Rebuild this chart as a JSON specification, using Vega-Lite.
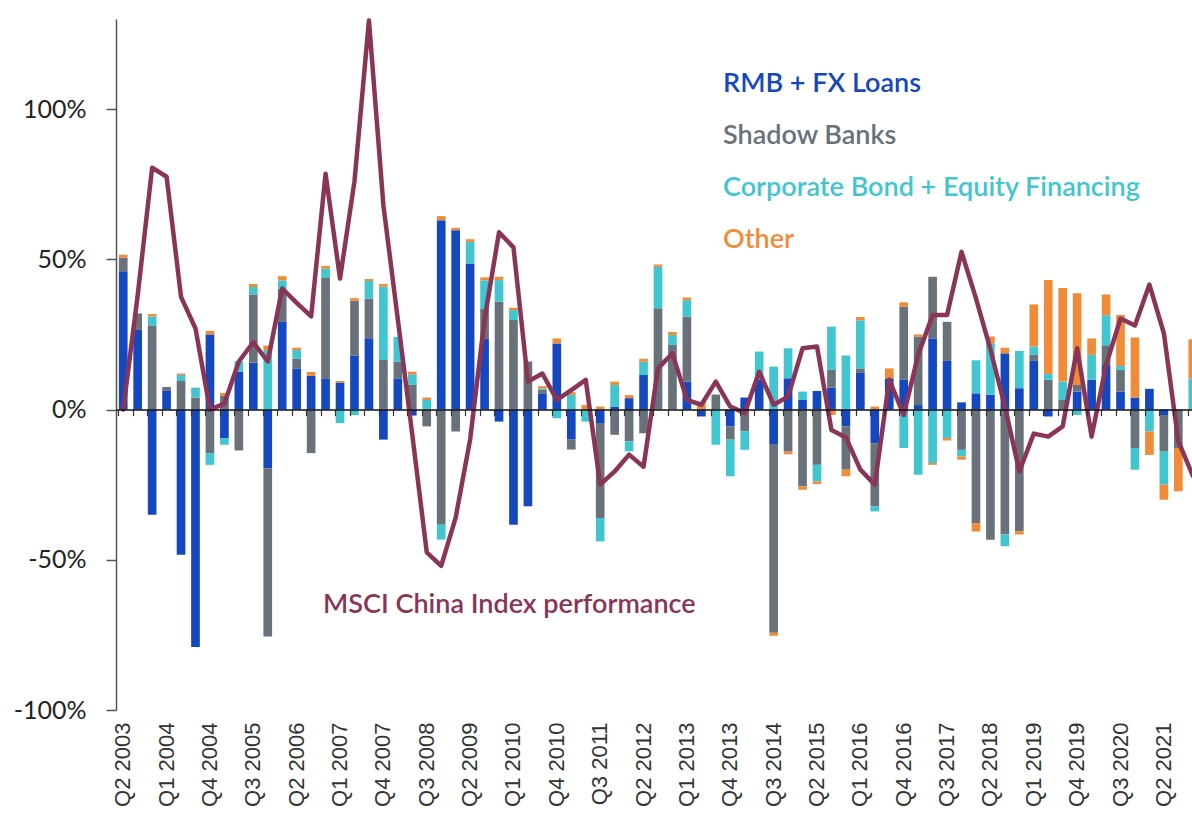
{
  "$schema": "https://vega.github.io/schema/vega-lite/v6.json",
  "width": 1084,
  "height": 691,
  "padding": {"left": 13, "top": 18, "right": 0, "bottom": 0},
  "autosize": {"type": "pad"},
  "background": "white",
  "config": {"view": {"stroke": null}, "font": "Lato"},
  "resolve": {"axis": {"x": "independent"}},
  "datasets": {
    "bars": [
      {"q":"Q2 2003","s":"RMB + FX Loans","n":1,"v":46},{"q":"Q2 2003","s":"Shadow Banks","n":2,"v":4.5},{"q":"Q2 2003","s":"Other","n":4,"v":1},
      {"q":"Q3 2003","s":"RMB + FX Loans","n":1,"v":26.5},{"q":"Q3 2003","s":"Shadow Banks","n":2,"v":5.5},
      {"q":"Q4 2003","s":"RMB + FX Loans","n":1,"v":-35},{"q":"Q4 2003","s":"Shadow Banks","n":2,"v":28},{"q":"Q4 2003","s":"Corporate Bond + Equity Financing","n":3,"v":3},{"q":"Q4 2003","s":"Other","n":4,"v":0.8},
      {"q":"Q1 2004","s":"RMB + FX Loans","n":1,"v":6.2},{"q":"Q1 2004","s":"Shadow Banks","n":2,"v":1.3},
      {"q":"Q2 2004","s":"RMB + FX Loans","n":1,"v":-48.3},{"q":"Q2 2004","s":"Shadow Banks","n":2,"v":9.5},{"q":"Q2 2004","s":"Corporate Bond + Equity Financing","n":3,"v":2},{"q":"Q2 2004","s":"Other","n":4,"v":0.5},
      {"q":"Q3 2004","s":"RMB + FX Loans","n":1,"v":-79},{"q":"Q3 2004","s":"Shadow Banks","n":2,"v":4},{"q":"Q3 2004","s":"Corporate Bond + Equity Financing","n":3,"v":3.3},
      {"q":"Q4 2004","s":"RMB + FX Loans","n":1,"v":25},{"q":"Q4 2004","s":"Shadow Banks","n":2,"v":-14.5},{"q":"Q4 2004","s":"Corporate Bond + Equity Financing","n":3,"v":-3.9},{"q":"Q4 2004","s":"Other","n":4,"v":1.2},
      {"q":"Q1 2005","s":"RMB + FX Loans","n":1,"v":-9.5},{"q":"Q1 2005","s":"Shadow Banks","n":2,"v":4.5},{"q":"Q1 2005","s":"Corporate Bond + Equity Financing","n":3,"v":-2.2},{"q":"Q1 2005","s":"Other","n":4,"v":1},
      {"q":"Q2 2005","s":"RMB + FX Loans","n":1,"v":12.6},{"q":"Q2 2005","s":"Shadow Banks","n":2,"v":-13.6},{"q":"Q2 2005","s":"Corporate Bond + Equity Financing","n":3,"v":3.5},
      {"q":"Q3 2005","s":"RMB + FX Loans","n":1,"v":15.6},{"q":"Q3 2005","s":"Shadow Banks","n":2,"v":22.7},{"q":"Q3 2005","s":"Corporate Bond + Equity Financing","n":3,"v":2.5},{"q":"Q3 2005","s":"Other","n":4,"v":1},
      {"q":"Q4 2005","s":"RMB + FX Loans","n":1,"v":-19.5},{"q":"Q4 2005","s":"Shadow Banks","n":2,"v":-56},{"q":"Q4 2005","s":"Corporate Bond + Equity Financing","n":3,"v":19.8},{"q":"Q4 2005","s":"Other","n":4,"v":1.5},
      {"q":"Q1 2006","s":"RMB + FX Loans","n":1,"v":29.2},{"q":"Q1 2006","s":"Shadow Banks","n":2,"v":11},{"q":"Q1 2006","s":"Corporate Bond + Equity Financing","n":3,"v":2.8},{"q":"Q1 2006","s":"Other","n":4,"v":1.4},
      {"q":"Q2 2006","s":"RMB + FX Loans","n":1,"v":13.7},{"q":"Q2 2006","s":"Shadow Banks","n":2,"v":3.3},{"q":"Q2 2006","s":"Corporate Bond + Equity Financing","n":3,"v":2.8},{"q":"Q2 2006","s":"Other","n":4,"v":0.8},
      {"q":"Q3 2006","s":"RMB + FX Loans","n":1,"v":11.2},{"q":"Q3 2006","s":"Shadow Banks","n":2,"v":-14.5},{"q":"Q3 2006","s":"Other","n":4,"v":1.3},
      {"q":"Q4 2006","s":"RMB + FX Loans","n":1,"v":10.4},{"q":"Q4 2006","s":"Shadow Banks","n":2,"v":33.4},{"q":"Q4 2006","s":"Corporate Bond + Equity Financing","n":3,"v":3.1},{"q":"Q4 2006","s":"Other","n":4,"v":0.9},
      {"q":"Q1 2007","s":"RMB + FX Loans","n":1,"v":9},{"q":"Q1 2007","s":"Corporate Bond + Equity Financing","n":3,"v":-4.5},{"q":"Q1 2007","s":"Other","n":4,"v":0.5},
      {"q":"Q2 2007","s":"RMB + FX Loans","n":1,"v":18},{"q":"Q2 2007","s":"Shadow Banks","n":2,"v":18.2},{"q":"Q2 2007","s":"Corporate Bond + Equity Financing","n":3,"v":-1.8},{"q":"Q2 2007","s":"Other","n":4,"v":0.9},
      {"q":"Q3 2007","s":"RMB + FX Loans","n":1,"v":23.7},{"q":"Q3 2007","s":"Shadow Banks","n":2,"v":13.3},{"q":"Q3 2007","s":"Corporate Bond + Equity Financing","n":3,"v":5.8},{"q":"Q3 2007","s":"Other","n":4,"v":0.7},
      {"q":"Q4 2007","s":"RMB + FX Loans","n":1,"v":-10},{"q":"Q4 2007","s":"Shadow Banks","n":2,"v":16.5},{"q":"Q4 2007","s":"Corporate Bond + Equity Financing","n":3,"v":24.4},{"q":"Q4 2007","s":"Other","n":4,"v":0.9},
      {"q":"Q1 2008","s":"RMB + FX Loans","n":1,"v":10.4},{"q":"Q1 2008","s":"Shadow Banks","n":2,"v":5.5},{"q":"Q1 2008","s":"Corporate Bond + Equity Financing","n":3,"v":8.3},
      {"q":"Q2 2008","s":"RMB + FX Loans","n":1,"v":-2},{"q":"Q2 2008","s":"Shadow Banks","n":2,"v":8.2},{"q":"Q2 2008","s":"Corporate Bond + Equity Financing","n":3,"v":3.5},{"q":"Q2 2008","s":"Other","n":4,"v":0.9},
      {"q":"Q3 2008","s":"Shadow Banks","n":2,"v":-5.6},{"q":"Q3 2008","s":"Corporate Bond + Equity Financing","n":3,"v":3.2},{"q":"Q3 2008","s":"Other","n":4,"v":0.8},
      {"q":"Q4 2008","s":"RMB + FX Loans","n":1,"v":63},{"q":"Q4 2008","s":"Shadow Banks","n":2,"v":-38.3},{"q":"Q4 2008","s":"Corporate Bond + Equity Financing","n":3,"v":-5},{"q":"Q4 2008","s":"Other","n":4,"v":1.4},
      {"q":"Q1 2009","s":"RMB + FX Loans","n":1,"v":59.7},{"q":"Q1 2009","s":"Shadow Banks","n":2,"v":-7.3},{"q":"Q1 2009","s":"Other","n":4,"v":0.8},
      {"q":"Q2 2009","s":"RMB + FX Loans","n":1,"v":48.6},{"q":"Q2 2009","s":"Corporate Bond + Equity Financing","n":3,"v":7.2},{"q":"Q2 2009","s":"Other","n":4,"v":0.9},
      {"q":"Q3 2009","s":"RMB + FX Loans","n":1,"v":23.5},{"q":"Q3 2009","s":"Shadow Banks","n":2,"v":10},{"q":"Q3 2009","s":"Corporate Bond + Equity Financing","n":3,"v":9.5},{"q":"Q3 2009","s":"Other","n":4,"v":1},
      {"q":"Q4 2009","s":"RMB + FX Loans","n":1,"v":-4},{"q":"Q4 2009","s":"Shadow Banks","n":2,"v":35.9},{"q":"Q4 2009","s":"Corporate Bond + Equity Financing","n":3,"v":7.2},{"q":"Q4 2009","s":"Other","n":4,"v":1.1},
      {"q":"Q1 2010","s":"RMB + FX Loans","n":1,"v":-38.3},{"q":"Q1 2010","s":"Shadow Banks","n":2,"v":29.8},{"q":"Q1 2010","s":"Corporate Bond + Equity Financing","n":3,"v":3.3},{"q":"Q1 2010","s":"Other","n":4,"v":0.8},
      {"q":"Q2 2010","s":"RMB + FX Loans","n":1,"v":-32.2},{"q":"Q2 2010","s":"Shadow Banks","n":2,"v":16},
      {"q":"Q3 2010","s":"RMB + FX Loans","n":1,"v":5.4},{"q":"Q3 2010","s":"Shadow Banks","n":2,"v":1.1},{"q":"Q3 2010","s":"Corporate Bond + Equity Financing","n":3,"v":0.5},{"q":"Q3 2010","s":"Other","n":4,"v":0.8},
      {"q":"Q4 2010","s":"RMB + FX Loans","n":1,"v":22},{"q":"Q4 2010","s":"Corporate Bond + Equity Financing","n":3,"v":-2.9},{"q":"Q4 2010","s":"Other","n":4,"v":1.7},
      {"q":"Q1 2011","s":"RMB + FX Loans","n":1,"v":-10},{"q":"Q1 2011","s":"Shadow Banks","n":2,"v":-3.3},{"q":"Q1 2011","s":"Corporate Bond + Equity Financing","n":3,"v":4.9},{"q":"Q1 2011","s":"Other","n":4,"v":0.9},
      {"q":"Q2 2011","s":"Corporate Bond + Equity Financing","n":3,"v":-4},{"q":"Q2 2011","s":"Other","n":4,"v":1.5},
      {"q":"Q3 2011","s":"RMB + FX Loans","n":1,"v":-4.5},{"q":"Q3 2011","s":"Shadow Banks","n":2,"v":-31.6},{"q":"Q3 2011","s":"Corporate Bond + Equity Financing","n":3,"v":-7.8},{"q":"Q3 2011","s":"Other","n":4,"v":1},
      {"q":"Q4 2011","s":"RMB + FX Loans","n":1,"v":1},{"q":"Q4 2011","s":"Shadow Banks","n":2,"v":-8.4},{"q":"Q4 2011","s":"Corporate Bond + Equity Financing","n":3,"v":7.2},{"q":"Q4 2011","s":"Other","n":4,"v":1.1},
      {"q":"Q1 2012","s":"RMB + FX Loans","n":1,"v":3.8},{"q":"Q1 2012","s":"Shadow Banks","n":2,"v":-10.6},{"q":"Q1 2012","s":"Corporate Bond + Equity Financing","n":3,"v":-3.3},{"q":"Q1 2012","s":"Other","n":4,"v":1},
      {"q":"Q2 2012","s":"RMB + FX Loans","n":1,"v":11.5},{"q":"Q2 2012","s":"Shadow Banks","n":2,"v":-7.9},{"q":"Q2 2012","s":"Corporate Bond + Equity Financing","n":3,"v":4.4},{"q":"Q2 2012","s":"Other","n":4,"v":1},
      {"q":"Q3 2012","s":"Shadow Banks","n":2,"v":33.7},{"q":"Q3 2012","s":"Corporate Bond + Equity Financing","n":3,"v":13.8},{"q":"Q3 2012","s":"Other","n":4,"v":0.8},
      {"q":"Q4 2012","s":"Shadow Banks","n":2,"v":21.5},{"q":"Q4 2012","s":"Corporate Bond + Equity Financing","n":3,"v":3.3},{"q":"Q4 2012","s":"Other","n":4,"v":1},
      {"q":"Q1 2013","s":"RMB + FX Loans","n":1,"v":9.3},{"q":"Q1 2013","s":"Shadow Banks","n":2,"v":21.6},{"q":"Q1 2013","s":"Corporate Bond + Equity Financing","n":3,"v":5.5},{"q":"Q1 2013","s":"Other","n":4,"v":0.9},
      {"q":"Q2 2013","s":"RMB + FX Loans","n":1,"v":-2.3},{"q":"Q2 2013","s":"Other","n":4,"v":2.5},
      {"q":"Q3 2013","s":"Shadow Banks","n":2,"v":5},{"q":"Q3 2013","s":"Corporate Bond + Equity Financing","n":3,"v":-11.7},
      {"q":"Q4 2013","s":"RMB + FX Loans","n":1,"v":-5.6},{"q":"Q4 2013","s":"Shadow Banks","n":2,"v":-4.4},{"q":"Q4 2013","s":"Corporate Bond + Equity Financing","n":3,"v":-12.2},
      {"q":"Q1 2014","s":"RMB + FX Loans","n":1,"v":4},{"q":"Q1 2014","s":"Shadow Banks","n":2,"v":-7.3},{"q":"Q1 2014","s":"Corporate Bond + Equity Financing","n":3,"v":-6.1},
      {"q":"Q2 2014","s":"RMB + FX Loans","n":1,"v":10},{"q":"Q2 2014","s":"Corporate Bond + Equity Financing","n":3,"v":9.3},
      {"q":"Q3 2014","s":"RMB + FX Loans","n":1,"v":-11.7},{"q":"Q3 2014","s":"Shadow Banks","n":2,"v":-62.6},{"q":"Q3 2014","s":"Corporate Bond + Equity Financing","n":3,"v":14.3},{"q":"Q3 2014","s":"Other","n":4,"v":-1},
      {"q":"Q4 2014","s":"RMB + FX Loans","n":1,"v":10.4},{"q":"Q4 2014","s":"Shadow Banks","n":2,"v":-14},{"q":"Q4 2014","s":"Corporate Bond + Equity Financing","n":3,"v":10},{"q":"Q4 2014","s":"Other","n":4,"v":-0.9},
      {"q":"Q1 2015","s":"RMB + FX Loans","n":1,"v":3.2},{"q":"Q1 2015","s":"Shadow Banks","n":2,"v":-25.6},{"q":"Q1 2015","s":"Corporate Bond + Equity Financing","n":3,"v":2.8},{"q":"Q1 2015","s":"Other","n":4,"v":-1.1},
      {"q":"Q2 2015","s":"RMB + FX Loans","n":1,"v":6.2},{"q":"Q2 2015","s":"Shadow Banks","n":2,"v":-18.4},{"q":"Q2 2015","s":"Corporate Bond + Equity Financing","n":3,"v":-5.5},{"q":"Q2 2015","s":"Other","n":4,"v":-0.9},
      {"q":"Q3 2015","s":"RMB + FX Loans","n":1,"v":7.3},{"q":"Q3 2015","s":"Shadow Banks","n":2,"v":5.9},{"q":"Q3 2015","s":"Corporate Bond + Equity Financing","n":3,"v":14.4},{"q":"Q3 2015","s":"Other","n":4,"v":-1.8},
      {"q":"Q4 2015","s":"RMB + FX Loans","n":1,"v":-5.6},{"q":"Q4 2015","s":"Shadow Banks","n":2,"v":-14.4},{"q":"Q4 2015","s":"Corporate Bond + Equity Financing","n":3,"v":18},{"q":"Q4 2015","s":"Other","n":4,"v":-2.2},
      {"q":"Q1 2016","s":"RMB + FX Loans","n":1,"v":12.4},{"q":"Q1 2016","s":"Shadow Banks","n":2,"v":1.3},{"q":"Q1 2016","s":"Corporate Bond + Equity Financing","n":3,"v":16},{"q":"Q1 2016","s":"Other","n":4,"v":1.1},
      {"q":"Q2 2016","s":"RMB + FX Loans","n":1,"v":-11.2},{"q":"Q2 2016","s":"Shadow Banks","n":2,"v":-21},{"q":"Q2 2016","s":"Corporate Bond + Equity Financing","n":3,"v":-1.7},{"q":"Q2 2016","s":"Other","n":4,"v":1},
      {"q":"Q3 2016","s":"RMB + FX Loans","n":1,"v":10.4},{"q":"Q3 2016","s":"Other","n":4,"v":3.3},
      {"q":"Q4 2016","s":"RMB + FX Loans","n":1,"v":9.9},{"q":"Q4 2016","s":"Shadow Banks","n":2,"v":24.4},{"q":"Q4 2016","s":"Corporate Bond + Equity Financing","n":3,"v":-12.8},{"q":"Q4 2016","s":"Other","n":4,"v":1.4},
      {"q":"Q1 2017","s":"RMB + FX Loans","n":1,"v":1.5},{"q":"Q1 2017","s":"Shadow Banks","n":2,"v":22.7},{"q":"Q1 2017","s":"Corporate Bond + Equity Financing","n":3,"v":-21.7},{"q":"Q1 2017","s":"Other","n":4,"v":0.8},
      {"q":"Q2 2017","s":"RMB + FX Loans","n":1,"v":23.7},{"q":"Q2 2017","s":"Shadow Banks","n":2,"v":20.5},{"q":"Q2 2017","s":"Corporate Bond + Equity Financing","n":3,"v":-17.8},{"q":"Q2 2017","s":"Other","n":4,"v":-0.6},
      {"q":"Q3 2017","s":"RMB + FX Loans","n":1,"v":16.2},{"q":"Q3 2017","s":"Shadow Banks","n":2,"v":13},{"q":"Q3 2017","s":"Corporate Bond + Equity Financing","n":3,"v":-9.5},{"q":"Q3 2017","s":"Other","n":4,"v":-0.8},
      {"q":"Q4 2017","s":"RMB + FX Loans","n":1,"v":2.4},{"q":"Q4 2017","s":"Shadow Banks","n":2,"v":-13.4},{"q":"Q4 2017","s":"Corporate Bond + Equity Financing","n":3,"v":-2.2},{"q":"Q4 2017","s":"Other","n":4,"v":-1.1},
      {"q":"Q1 2018","s":"RMB + FX Loans","n":1,"v":5.4},{"q":"Q1 2018","s":"Shadow Banks","n":2,"v":-37.8},{"q":"Q1 2018","s":"Corporate Bond + Equity Financing","n":3,"v":11},{"q":"Q1 2018","s":"Other","n":4,"v":-2.8},
      {"q":"Q2 2018","s":"RMB + FX Loans","n":1,"v":4.9},{"q":"Q2 2018","s":"Shadow Banks","n":2,"v":-43.3},{"q":"Q2 2018","s":"Corporate Bond + Equity Financing","n":3,"v":17.2},{"q":"Q2 2018","s":"Other","n":4,"v":2.2},
      {"q":"Q3 2018","s":"RMB + FX Loans","n":1,"v":18.7},{"q":"Q3 2018","s":"Shadow Banks","n":2,"v":-41.6},{"q":"Q3 2018","s":"Corporate Bond + Equity Financing","n":3,"v":-3.9},{"q":"Q3 2018","s":"Other","n":4,"v":1.9},
      {"q":"Q4 2018","s":"RMB + FX Loans","n":1,"v":7.1},{"q":"Q4 2018","s":"Shadow Banks","n":2,"v":-40.5},{"q":"Q4 2018","s":"Corporate Bond + Equity Financing","n":3,"v":12.4},{"q":"Q4 2018","s":"Other","n":4,"v":-1.1},
      {"q":"Q1 2019","s":"RMB + FX Loans","n":1,"v":16.2},{"q":"Q1 2019","s":"Shadow Banks","n":2,"v":2},{"q":"Q1 2019","s":"Corporate Bond + Equity Financing","n":3,"v":2.8},{"q":"Q1 2019","s":"Other","n":4,"v":14},
      {"q":"Q2 2019","s":"RMB + FX Loans","n":1,"v":-2.3},{"q":"Q2 2019","s":"Shadow Banks","n":2,"v":9.9},{"q":"Q2 2019","s":"Corporate Bond + Equity Financing","n":3,"v":1.9},{"q":"Q2 2019","s":"Other","n":4,"v":31.3},
      {"q":"Q3 2019","s":"Shadow Banks","n":2,"v":3.2},{"q":"Q3 2019","s":"Corporate Bond + Equity Financing","n":3,"v":6.1},{"q":"Q3 2019","s":"Other","n":4,"v":31.2},
      {"q":"Q4 2019","s":"RMB + FX Loans","n":1,"v":6},{"q":"Q4 2019","s":"Shadow Banks","n":2,"v":2.2},{"q":"Q4 2019","s":"Corporate Bond + Equity Financing","n":3,"v":-1.8},{"q":"Q4 2019","s":"Other","n":4,"v":30.5},
      {"q":"Q1 2020","s":"RMB + FX Loans","n":1,"v":9.9},{"q":"Q1 2020","s":"Corporate Bond + Equity Financing","n":3,"v":8.3},{"q":"Q1 2020","s":"Other","n":4,"v":5.5},
      {"q":"Q2 2020","s":"RMB + FX Loans","n":1,"v":14.8},{"q":"Q2 2020","s":"Shadow Banks","n":2,"v":6.6},{"q":"Q2 2020","s":"Corporate Bond + Equity Financing","n":3,"v":10},{"q":"Q2 2020","s":"Other","n":4,"v":6.9},
      {"q":"Q3 2020","s":"RMB + FX Loans","n":1,"v":6},{"q":"Q3 2020","s":"Shadow Banks","n":2,"v":7.2},{"q":"Q3 2020","s":"Corporate Bond + Equity Financing","n":3,"v":1.3},{"q":"Q3 2020","s":"Other","n":4,"v":17},
      {"q":"Q4 2020","s":"RMB + FX Loans","n":1,"v":4},{"q":"Q4 2020","s":"Shadow Banks","n":2,"v":-12.8},{"q":"Q4 2020","s":"Corporate Bond + Equity Financing","n":3,"v":-7.2},{"q":"Q4 2020","s":"Other","n":4,"v":20},
      {"q":"Q1 2021","s":"RMB + FX Loans","n":1,"v":6.9},{"q":"Q1 2021","s":"Corporate Bond + Equity Financing","n":3,"v":-7.3},{"q":"Q1 2021","s":"Other","n":4,"v":-7.8},
      {"q":"Q2 2021","s":"RMB + FX Loans","n":1,"v":-1.8},{"q":"Q2 2021","s":"Shadow Banks","n":2,"v":-12.2},{"q":"Q2 2021","s":"Corporate Bond + Equity Financing","n":3,"v":-11},{"q":"Q2 2021","s":"Other","n":4,"v":-5},
      {"q":"Q3 2021","s":"Shadow Banks","n":2,"v":-12.8},{"q":"Q3 2021","s":"Other","n":4,"v":-14.4},
      {"q":"Q4 2021","s":"Corporate Bond + Equity Financing","n":3,"v":10.4},{"q":"Q4 2021","s":"Other","n":4,"v":13}
    ],
    "msci": [
      {"q":"Q2 2003","m":0},{"q":"Q3 2003","m":38},{"q":"Q4 2003","m":80.5},{"q":"Q1 2004","m":77.5},{"q":"Q2 2004","m":37.5},{"q":"Q3 2004","m":27},{"q":"Q4 2004","m":0},{"q":"Q1 2005","m":2},
      {"q":"Q2 2005","m":16},{"q":"Q3 2005","m":22.4},{"q":"Q4 2005","m":16},{"q":"Q1 2006","m":40.3},{"q":"Q2 2006","m":35.5},{"q":"Q3 2006","m":31},{"q":"Q4 2006","m":78.5},{"q":"Q1 2007","m":43.6},
      {"q":"Q2 2007","m":76},{"q":"Q3 2007","m":129.5},{"q":"Q4 2007","m":68},{"q":"Q1 2008","m":30},{"q":"Q2 2008","m":-8.4},{"q":"Q3 2008","m":-47.5},{"q":"Q4 2008","m":-52},{"q":"Q1 2009","m":-36},
      {"q":"Q2 2009","m":-10},{"q":"Q3 2009","m":30},{"q":"Q4 2009","m":59},{"q":"Q1 2010","m":54},{"q":"Q2 2010","m":9.3},{"q":"Q3 2010","m":12},{"q":"Q4 2010","m":3.2},{"q":"Q1 2011","m":6.5},
      {"q":"Q2 2011","m":9.9},{"q":"Q3 2011","m":-25},{"q":"Q4 2011","m":-20.6},{"q":"Q1 2012","m":-15},{"q":"Q2 2012","m":-19},{"q":"Q3 2012","m":13.7},{"q":"Q4 2012","m":18.7},{"q":"Q1 2013","m":3.2},
      {"q":"Q2 2013","m":1.6},{"q":"Q3 2013","m":9.3},{"q":"Q4 2013","m":1},{"q":"Q1 2014","m":-1.2},{"q":"Q2 2014","m":12.6},{"q":"Q3 2014","m":1.6},{"q":"Q4 2014","m":4.3},{"q":"Q1 2015","m":20.4},
      {"q":"Q2 2015","m":21},{"q":"Q3 2015","m":-6.8},{"q":"Q4 2015","m":-9.3},{"q":"Q1 2016","m":-20},{"q":"Q2 2016","m":-25},{"q":"Q3 2016","m":9.9},{"q":"Q4 2016","m":-1.8},{"q":"Q1 2017","m":18.2},
      {"q":"Q2 2017","m":31.5},{"q":"Q3 2017","m":31.5},{"q":"Q4 2017","m":52.5},{"q":"Q1 2018","m":37},{"q":"Q2 2018","m":20},{"q":"Q3 2018","m":1},{"q":"Q4 2018","m":-20.6},{"q":"Q1 2019","m":-8},
      {"q":"Q2 2019","m":-9},{"q":"Q3 2019","m":-5.6},{"q":"Q4 2019","m":20.4},{"q":"Q1 2020","m":-9},{"q":"Q2 2020","m":14.8},{"q":"Q3 2020","m":30.3},{"q":"Q4 2020","m":28},{"q":"Q1 2021","m":41.6},
      {"q":"Q2 2021","m":25.4},{"q":"Q3 2021","m":-10.5},{"q":"Q4 2021","m":-22}
    ]
  },
  "layer": [
    {
      "data": {"name": "bars"},
      "mark": {"type": "bar"},
      "encoding": {
        "x": {
          "field": "q", "type": "ordinal",
          "scale": {
            "domain": ["Q2 2003","Q3 2003","Q4 2003","Q1 2004","Q2 2004","Q3 2004","Q4 2004","Q1 2005","Q2 2005","Q3 2005","Q4 2005","Q1 2006","Q2 2006","Q3 2006","Q4 2006","Q1 2007","Q2 2007","Q3 2007","Q4 2007","Q1 2008","Q2 2008","Q3 2008","Q4 2008","Q1 2009","Q2 2009","Q3 2009","Q4 2009","Q1 2010","Q2 2010","Q3 2010","Q4 2010","Q1 2011","Q2 2011","Q3 2011","Q4 2011","Q1 2012","Q2 2012","Q3 2012","Q4 2012","Q1 2013","Q2 2013","Q3 2013","Q4 2013","Q1 2014","Q2 2014","Q3 2014","Q4 2014","Q1 2015","Q2 2015","Q3 2015","Q4 2015","Q1 2016","Q2 2016","Q3 2016","Q4 2016","Q1 2017","Q2 2017","Q3 2017","Q4 2017","Q1 2018","Q2 2018","Q3 2018","Q4 2018","Q1 2019","Q2 2019","Q3 2019","Q4 2019","Q1 2020","Q2 2020","Q3 2020","Q4 2020","Q1 2021","Q2 2021","Q3 2021","Q4 2021"],
            "paddingInner": 0.4, "paddingOuter": 0.2
          },
          "axis": {
            "orient": "bottom", "title": null, "domain": false, "ticks": false,
            "values": ["Q2 2003","Q1 2004","Q4 2004","Q3 2005","Q2 2006","Q1 2007","Q4 2007","Q3 2008","Q2 2009","Q1 2010","Q4 2010","Q3 2011","Q2 2012","Q1 2013","Q4 2013","Q3 2014","Q2 2015","Q1 2016","Q4 2016","Q3 2017","Q2 2018","Q1 2019","Q4 2019","Q3 2020","Q2 2021"],
            "labelAngle": -90, "labelFont": "Liberation Sans", "labelFontSize": 22, "labelColor": "#333333",
            "labelPadding": 12, "labelOverlap": false, "labelBound": false, "labelFlush": false
          }
        },
        "y": {
          "field": "v", "type": "quantitative", "stack": "zero",
          "scale": {"domain": [-100, 130], "nice": false, "zero": false},
          "axis": {
            "title": null, "grid": false, "values": [-100, -50, 0, 50, 100],
            "labelExpr": "datum.value + '%'",
            "labelFont": "Lato", "labelFontSize": 25, "labelColor": "#222222", "labelPadding": 20,
            "tickSize": 10, "tickColor": "#555555", "tickWidth": 1.5,
            "domainColor": "#555555", "domainWidth": 1.5
          }
        },
        "color": {
          "field": "s", "type": "nominal",
          "scale": {
            "domain": ["RMB + FX Loans", "Shadow Banks", "Corporate Bond + Equity Financing", "Other"],
            "range": ["#1447c0", "#69717a", "#41c6d1", "#f08c38"]
          },
          "legend": {
            "title": null, "orient": "none", "legendX": 580, "legendY": 51, "direction": "vertical",
            "symbolOpacity": 0, "symbolSize": 1, "symbolStrokeWidth": 0, "labelOffset": 0,
            "labelFont": "Lato", "labelFontSize": 27, "labelFontWeight": 600, "rowPadding": 24, "labelLimit": 600,
            "encode": {"labels": {"update": {"fill": {"scale": "color", "field": "value"}}}}
          }
        },
        "order": {"field": "n", "type": "quantitative", "sort": "ascending"}
      }
    },
    {
      "data": {"name": "msci"},
      "mark": {"type": "line", "strokeWidth": 4.5, "strokeJoin": "round", "strokeCap": "round"},
      "encoding": {
        "x": {
          "field": "q", "type": "ordinal",
          "axis": {
            "orient": "bottom", "title": null, "offset": -300.4, "bandPosition": 0,
            "labels": false, "ticks": true, "tickSize": 6, "tickColor": "#333333", "tickWidth": 1.2,
            "domain": true, "domainColor": "#111111", "domainWidth": 1.5, "zindex": 1
          }
        },
        "y": {"field": "m", "type": "quantitative"},
        "stroke": {
          "datum": "MSCI China Index performance", "type": "nominal",
          "scale": {"range": ["#8a3558"]},
          "legend": {
            "title": null, "orient": "none", "legendX": 180, "legendY": 572,
            "symbolOpacity": 0, "symbolSize": 1, "symbolStrokeWidth": 0, "labelOffset": 0,
            "labelFont": "Lato", "labelFontSize": 27, "labelFontWeight": 600, "labelLimit": 600,
            "encode": {"labels": {"update": {"fill": {"scale": "stroke", "field": "value"}}}}
          }
        }
      }
    }
  ]
}
